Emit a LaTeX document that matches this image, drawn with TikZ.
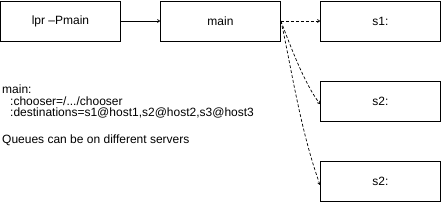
\documentclass[tikz,border=0pt]{standalone}
\usepackage{fontspec}
\setmainfont{Liberation Sans}
\usetikzlibrary{arrows.meta}
\begin{document}
\begin{tikzpicture}[x=1pt,y=-1pt,
  qbox/.style={draw,line width=0.8pt,minimum width=120pt,minimum height=40pt,inner sep=0pt,font=\fontsize{12}{14}\selectfont},
  conn/.style={line width=0.7pt,-{To[length=3pt,width=3.5pt]}},
  dconn/.style={conn,dash pattern=on 3pt off 2pt},
  lbl/.style={anchor=west,inner sep=0pt,font=\fontsize{12}{14}\selectfont}]
\useasboundingbox (0,0) rectangle (442,202);
\node[qbox] (lpr) at (60.5,21) {lpr –Pmain};
\node[qbox] (main) at (220.5,21) {main};
\node[qbox] (s1) at (380.5,21) {s1:};
\node[qbox] (s2) at (380.5,101) {s2:};
\node[qbox] (s3) at (380.5,181) {s2:};
\draw[conn] (lpr.east) -- (main.west);
\draw[dconn] (main.east) -- (s1.west);
\draw[dconn] (main.east) .. controls (290,45) and (305,85) .. ([yshift=-3pt]s2.west);
\draw[dconn] (main.east) .. controls (290,60) and (300,130) .. ([yshift=-4pt]s3.west);
\node[lbl] (t1) at (2,89) {main:};
\node[lbl] (t2) at (10,101) {:chooser=/.../chooser};
\node[lbl] (t3) at (10,113) {:destinations=s1@host1,s2@host2,s3@host3};
\node[lbl] (t4) at (2,140) {Queues can be on different servers};
\end{tikzpicture}
\end{document}
